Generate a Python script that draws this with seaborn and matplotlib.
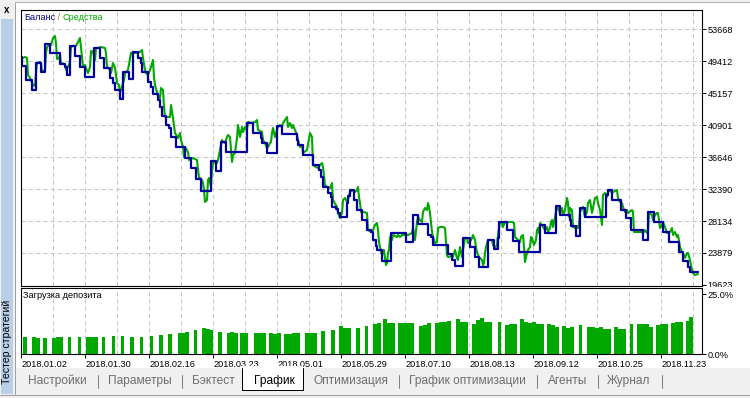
import matplotlib
matplotlib.use("Agg")
import matplotlib.pyplot as plt
import seaborn as sns
import pandas as pd
from matplotlib.patches import Rectangle
from matplotlib.lines import Line2D

sns.set_theme(style="white")
plt.rcParams['font.family'] = ['Liberation Sans', 'DejaVu Sans']

# ---------------- data ----------------
balance_deal = [
    0, 1, 5, 11, 15, 20, 24, 29, 39, 44,
    46, 49, 54, 59, 64, 73, 79, 83, 89, 92,
    94, 99, 102, 108, 112, 117, 120, 121, 127, 130,
    132, 137, 139, 141, 145, 148, 150, 155, 164, 170,
    175, 180, 190, 195, 200, 205, 226, 232, 240, 241,
    246, 256, 261, 276, 277, 282, 292, 298, 300, 302,
    307, 310, 311, 315, 317, 319, 326, 327, 329, 333,
    336, 341, 346, 350, 352, 355, 356, 361, 370, 385,
    392, 397, 407, 410, 412, 427, 431, 434, 442, 449,
    454, 458, 467, 473, 477, 478, 486, 492, 498, 519,
    524, 535, 539, 549, 550, 555, 559, 564, 585, 587,
    591, 600, 605, 610, 622, 627, 633, 642, 648, 658,
    662, 667, 669, 677]
balance_value = [
    49947, 48750, 46888, 45558, 49149, 47952, 51676, 50479, 49016, 48617,
    47553, 51410, 50080, 48617, 47287, 51144, 49814, 48484, 47154, 46489,
    45558, 44361, 47952, 47021, 50612, 49814, 49149, 47952, 46622, 45957,
    45026, 44228, 43297, 42100, 40903, 40504, 39307, 37977, 36514, 35184,
    33721, 32125, 36115, 34785, 38642, 37312, 41169, 39839, 39174, 38509,
    37179, 40770, 39706, 38908, 38243, 36913, 35583, 34918, 33987, 32657,
    31859, 31327, 29997, 29731, 29199, 28667, 30529, 31460, 32258, 30928,
    29598, 28268, 26938, 26672, 25608, 24810, 24278, 22815, 26539, 25342,
    28933, 27736, 26273, 26007, 24943, 23746, 22948, 22150, 25874, 24677,
    23347, 22017, 25608, 24411, 25874, 28002, 26938, 25475, 24012, 27603,
    26539, 30130, 28933, 28268, 27470, 26140, 29864, 28667, 31593, 32258,
    30928, 29598, 28534, 26938, 25608, 29332, 28002, 26672, 25342, 24012,
    22815, 22017, 21352, 21352]

equity_deal = [
    0, 2, 4, 6, 7, 9, 12, 14, 15, 16,
    19, 20, 21, 24, 25, 26, 29, 30, 32, 34,
    35, 36, 38, 39, 40, 44, 45, 47, 49, 50,
    52, 55, 57, 59, 60, 61, 62, 64, 65, 67,
    69, 70, 72, 74, 75, 77, 80, 84, 85, 86,
    89, 90, 92, 94, 95, 96, 98, 99, 100, 103,
    104, 105, 107, 110, 115, 119, 121, 122, 124, 125,
    127, 129, 130, 132, 133, 134, 137, 139, 140, 142,
    143, 144, 149, 150, 152, 154, 157, 159, 160, 162,
    163, 164, 167, 168, 172, 174, 176, 177, 178, 181,
    182, 183, 184, 186, 187, 188, 190, 191, 192, 194,
    196, 197, 199, 201, 202, 204, 206, 207, 209, 211,
    212, 214, 216, 217, 219, 221, 222, 224, 226, 227,
    231, 234, 236, 237, 241, 242, 244, 246, 247, 249,
    250, 251, 252, 254, 256, 257, 259, 261, 262, 264,
    266, 267, 269, 271, 272, 274, 276, 277, 279, 281,
    282, 286, 289, 291, 292, 295, 297, 299, 301, 302,
    304, 306, 309, 311, 312, 316, 317, 319, 321, 322,
    324, 326, 327, 329, 332, 334, 336, 337, 338, 339,
    340, 343, 346, 347, 350, 352, 354, 356, 357, 358,
    359, 361, 362, 363, 364, 365, 366, 367, 368, 369,
    371, 372, 376, 377, 379, 381, 387, 391, 392, 394,
    396, 397, 399, 401, 402, 404, 406, 407, 408, 409,
    411, 412, 414, 416, 417, 419, 422, 424, 426, 427,
    431, 432, 434, 436, 437, 439, 441, 442, 444, 446,
    447, 449, 451, 452, 454, 455, 456, 458, 461, 462,
    463, 464, 465, 467, 471, 472, 474, 476, 477, 479,
    481, 482, 484, 491, 493, 494, 497, 499, 500, 502,
    503, 504, 506, 507, 509, 510, 511, 512, 513, 515,
    516, 517, 518, 519, 521, 522, 524, 526, 527, 529,
    530, 531, 532, 534, 536, 537, 539, 541, 542, 544,
    546, 547, 548, 549, 551, 552, 554, 556, 557, 558,
    559, 561, 562, 564, 566, 567, 569, 571, 572, 574,
    576, 577, 579, 581, 582, 584, 586, 587, 589, 591,
    592, 596, 597, 599, 601, 602, 604, 606, 607, 611,
    612, 613, 621, 622, 624, 626, 627, 628, 631, 632,
    634, 636, 637, 639, 641, 642, 644, 646, 647, 649,
    651, 652, 654, 656, 657, 659, 661, 662, 664, 666,
    667, 669, 671, 672, 674, 677]
equity_value = [
    49947, 49814, 49947, 49814, 47553, 47154, 46223, 46090, 47819, 49149,
    49282, 49149, 47952, 48218, 50479, 51277, 51676, 51543, 52474, 52740,
    51809, 49681, 49814, 50213, 49149, 49016, 48218, 48617, 49282, 51277,
    51410, 51410, 51942, 52474, 51277, 49947, 48617, 48883, 48484, 47819,
    48617, 50745, 50612, 49548, 51144, 51144, 51277, 51144, 50479, 48617,
    48218, 47819, 49149, 48484, 47553, 46489, 46223, 45292, 45558, 46888,
    47819, 47952, 48218, 50479, 50479, 50612, 50878, 49814, 48218, 47819,
    47553, 48218, 48617, 49548, 47287, 46223, 44760, 44494, 45824, 45558,
    43297, 41967, 41967, 43563, 41834, 39839, 39174, 39839, 38908, 37977,
    36647, 37977, 37312, 36248, 36514, 36381, 36248, 34918, 33987, 33588,
    33189, 32258, 30662, 30928, 33588, 33854, 32657, 34918, 35849, 35982,
    35849, 36248, 37578, 38908, 38642, 38509, 39307, 39573, 39307, 35982,
    36913, 37179, 39174, 40903, 39307, 40637, 39972, 40637, 40238, 41302,
    41169, 41302, 41568, 40238, 39972, 38908, 38509, 37844, 37977, 38509,
    38642, 39839, 40504, 39307, 40238, 40637, 40903, 40637, 41169, 41568,
    41967, 40637, 41169, 40504, 40903, 40238, 39573, 38908, 37977, 38243,
    37179, 37578, 39839, 39307, 35583, 35317, 35184, 35583, 35849, 35317,
    32923, 32657, 32524, 33189, 30928, 29997, 29199, 28534, 29199, 30928,
    31194, 30662, 30928, 31992, 32258, 31992, 32258, 32657, 31327, 30529,
    29332, 29332, 29199, 26938, 26672, 26938, 27603, 27869, 26938, 25342,
    24677, 23613, 24012, 24278, 23214, 22283, 22549, 23879, 24278, 26007,
    25608, 26273, 26007, 26273, 26007, 26273, 26273, 26539, 27204, 25608,
    28002, 28667, 28268, 28002, 29332, 29864, 29598, 30529, 29997, 29199,
    26672, 26007, 25209, 25342, 27204, 27337, 27337, 27204, 23613, 23347,
    23480, 23347, 24278, 23214, 22948, 24677, 23347, 24278, 25874, 25874,
    25209, 25342, 25874, 26273, 25608, 24677, 24012, 23347, 22948, 22283,
    22549, 23879, 24677, 25608, 25608, 24943, 24544, 24943, 26273, 28002,
    27869, 27337, 28002, 28002, 27869, 26007, 25608, 25342, 26007, 26273,
    24677, 22682, 23879, 24278, 24677, 26007, 25874, 25342, 24943, 25608,
    26938, 27204, 26539, 27869, 27603, 27337, 26938, 27337, 26672, 27204,
    28002, 28268, 27337, 28667, 29997, 29864, 29199, 29864, 28933, 29598,
    31194, 30529, 28667, 29864, 29598, 27337, 27204, 27470, 27204, 27603,
    29332, 29864, 29997, 28667, 29332, 30529, 30928, 29199, 29864, 31194,
    31327, 30529, 29598, 27603, 31593, 31859, 31327, 31992, 32258, 31859,
    31992, 32258, 31194, 30662, 30529, 29997, 29332, 29598, 29199, 29598,
    29332, 26672, 26672, 26539, 26938, 26539, 26938, 29199, 28933, 28268,
    28933, 29199, 29199, 27204, 27603, 28002, 27337, 26539, 26539, 26672,
    27204, 26273, 26672, 26007, 26273, 24677, 24012, 23879, 23214, 23879,
    23879, 22948, 21618, 21219, 20953, 21086]

load_deal = [
    4, 13, 17, 24, 33, 37, 40, 48.5, 58.5, 67,
    71, 75, 82.5, 92.5, 101.5, 111, 120.5, 130.5, 140, 149,
    159, 163, 166, 174.5, 183, 187, 190, 199, 208, 211,
    215, 221, 225, 235, 239, 243, 250, 254, 258, 265,
    269, 273, 277, 286, 290, 294, 302, 312, 320, 324,
    328, 337, 345.5, 354, 358, 364, 368, 372, 379, 383,
    387, 391, 400, 404, 408, 416, 420, 424, 428, 437,
    441, 445, 453, 457, 461, 465, 469, 478.5, 486, 490,
    494, 501, 505, 509, 513, 517, 521, 528, 532, 536,
    543, 547, 551, 559.5, 568, 572, 576, 580, 584, 588,
    595, 599, 603, 610.5, 618, 622, 626, 630, 637, 641,
    645, 652, 656, 660, 666.5, 670]
load_pct = [
    7.1, 7.1, 6.7, 6.8, 6.7, 6.9, 6.9, 7.1, 7.1, 6.9,
    6.9, 6.9, 7.1, 7.5, 7.6, 7.1, 7.1, 7.5, 7.9, 8.3,
    8.9, 8.9, 9.3, 10.0, 10.7, 10.4, 10.0, 9.0, 8.6, 9.0,
    8.9, 8.6, 8.6, 8.6, 8.6, 8.6, 8.6, 8.4, 8.6, 8.3,
    8.3, 8.9, 8.9, 8.8, 8.9, 8.8, 9.6, 10.0, 11.7, 10.7,
    10.7, 10.7, 11.7, 12.4, 12.8, 14.4, 13.1, 12.8, 12.8, 12.8,
    12.8, 13.1, 11.7, 12.2, 12.8, 13.1, 13.3, 13.5, 13.9, 14.4,
    13.5, 13.5, 12.5, 14.0, 14.9, 13.5, 13.5, 13.5, 12.1, 12.3,
    12.3, 14.4, 13.5, 13.1, 13.5, 12.5, 12.3, 12.3, 12.1, 11.4,
    11.7, 10.7, 11.4, 12.1, 11.4, 11.1, 10.7, 11.4, 10.4, 10.4,
    11.4, 10.4, 10.4, 12.5, 12.5, 12.5, 12.5, 11.4, 12.1, 12.3,
    12.3, 12.9, 13.5, 13.5, 13.9, 15.6]

date_ticks = [0, 64, 128, 192, 256, 320, 384, 448, 512, 576, 640]
date_labels = ['2018.01.02', '2018.01.30', '2018.02.16', '2018.03.23', '2018.05.01',
               '2018.05.29', '2018.07.10', '2018.08.13', '2018.09.12', '2018.10.25',
               '2018.11.23']
value_ticks = [19623, 23879, 28134, 32390, 36646, 40901, 45157, 49412, 53668]
load_ticks = [0, 25]
load_tick_labels = ['0.0%', '25.0%']
tab_names = ['Настройки', 'Параметры', 'Бэктест', 'График', 'Оптимизация',
             'График оптимизации', 'Агенты', 'Журнал']

# ---------------- layout helpers ----------------
W, H = 750, 398
fig = plt.figure(figsize=(W / 100, H / 100), dpi=100, facecolor='#F0F0F0')


def fx(px):
    return px / W


def fy(py):
    return 1 - py / H


def frect(x0, y0, x1, y1, color, z=-1):
    fig.add_artist(Rectangle((fx(x0), fy(y1)), fx(x1) - fx(x0), fy(y0) - fy(y1),
                             transform=fig.transFigure, facecolor=color,
                             edgecolor='none', zorder=z))


def fline(xs, ys, color, lw=1.0, z=2):
    fig.add_artist(Line2D([fx(x) for x in xs], [fy(y) for y in ys], color=color,
                          lw=lw * 0.72, transform=fig.transFigure, zorder=z))


# window background pieces
frect(15, 3, 750, 368, 'white')
frect(1, 19, 13, 394, '#B9CFE8')
fline([15, 750], [1.5, 1.5], '#B0B0B0')
fline([14.5, 14.5], [3, 394], '#A0A0A0')
fline([0, 750], [394.5, 394.5], '#A0A0A0')

FS = 6.6
GRID = dict(color='#C8C8C8', linestyle=(0, (4, 3)), linewidth=0.75)

# ---------------- main balance / equity panel ----------------
ax = fig.add_axes([fx(21), fy(286), fx(702) - fx(21), fy(10) - fy(286)])
ax.set_facecolor('white')
eq_df = pd.DataFrame({'deal': equity_deal, 'value': equity_value})
bal_df = pd.DataFrame({'deal': balance_deal, 'value': balance_value})
sns.lineplot(data=eq_df, x='deal', y='value', ax=ax, color='#00A800',
             linewidth=1.5, sort=False, estimator=None)
sns.lineplot(data=bal_df, x='deal', y='value', ax=ax, color='#0000A0',
             linewidth=1.6, sort=False, estimator=None, drawstyle='steps-post')
ax.set_xlim(0, 681)
ax.set_ylim(19623 - 133, 19623 + 275 * 133)
ax.set_xlabel('')
ax.set_ylabel('')
ax.yaxis.tick_right()
ax.set_yticks(value_ticks)
ax.set_yticklabels([str(v) for v in value_ticks])
ax.tick_params(axis='y', which='major', direction='out', length=3, width=0.7,
               pad=1, labelsize=FS, colors='black', right=True, left=False)
ax.set_xticks(list(range(0, 681, 32)))
ax.tick_params(axis='x', length=0, labelbottom=False)
ax.grid(True, **GRID)
ax.get_ygridlines()[0].set_visible(False)
ax.get_xgridlines()[0].set_visible(False)
for s in ax.spines.values():
    s.set_color('black')
    s.set_linewidth(0.8)

# ---------------- deposit load panel ----------------
ax2 = fig.add_axes([fx(21), fy(354), fx(702) - fx(21), fy(288) - fy(354)])
ax2.set_facecolor('white')
ax2.bar(load_deal, load_pct, width=3.8, color='#00A800', linewidth=0, zorder=2)
ax2.set_xlim(0, 681)
ax2.set_ylim(0, 27.5)
ax2.yaxis.tick_right()
ax2.set_yticks(load_ticks)
ax2.set_yticklabels(load_tick_labels)
ax2.tick_params(axis='y', direction='out', length=3, width=0.7, pad=1,
                labelsize=FS, colors='black', right=True, left=False)
ax2.set_xticks(date_ticks)
ax2.set_xticklabels(date_labels)
ax2.set_xticks(list(range(32, 681, 64)), minor=True)
ax2.tick_params(axis='x', which='major', direction='out', length=3, width=0.7,
                pad=1, labelsize=FS, colors='black', bottom=True)
ax2.tick_params(axis='x', which='minor', length=0, bottom=False)
for lbl in ax2.get_xticklabels():
    lbl.set_horizontalalignment('left')
ax2.grid(True, axis='x', which='both', **GRID)
ax2.grid(False, axis='y')
ax2.get_xgridlines()[0].set_visible(False)
for s in ax2.spines.values():
    s.set_color('black')
    s.set_linewidth(0.8)

# hide the lower part of the bottom value label like the original
frect(703, 287.3, 750, 290.2, 'white', z=1)

# ---------------- texts ----------------
t1 = fig.text(fx(24), fy(18), 'Баланс', color='#000090', fontsize=FS,
              ha='left', va='center')
t2 = ax.annotate(' / ', xy=(1, 0), xycoords=t1, ha='left', va='bottom',
                 color='#D07000', fontsize=FS, annotation_clip=False)
ax.annotate('Средства', xy=(1, 0), xycoords=t2, ha='left', va='bottom',
            color='#00A800', fontsize=FS, annotation_clip=False)
fig.text(fx(23), fy(296), 'Загрузка депозита', color='black', fontsize=FS,
         ha='left', va='center')

fig.text(fx(6.5), fy(10), 'x', color='black', fontsize=7, fontweight='bold',
         ha='center', va='center')
fig.text(fx(7.5), fy(342), 'Тестер стратегий', color='black', fontsize=7.6,
         rotation=90, ha='center', va='center')

# ---------------- tabs ----------------
frect(242, 366, 303, 390, 'white', z=1)
fline([242.5, 242.5, 303, 303], [368, 390, 390, 368], 'black', lw=1.0)
tab_left = [28, 108, 192, 254, 314, 409, 548, 607]
for name, left in zip(tab_names, tab_left):
    sel = name == 'График'
    fig.text(fx(left), fy(381), name, color='black' if sel else '#6D6D6D',
             fontsize=8.6, ha='left', va='center', zorder=4)
for sx in [98, 182, 399, 537, 598, 662]:
    fline([sx, sx], [375, 388], '#808080', lw=1.0)

fig.savefig('out.png', dpi=100, facecolor=fig.get_facecolor())
